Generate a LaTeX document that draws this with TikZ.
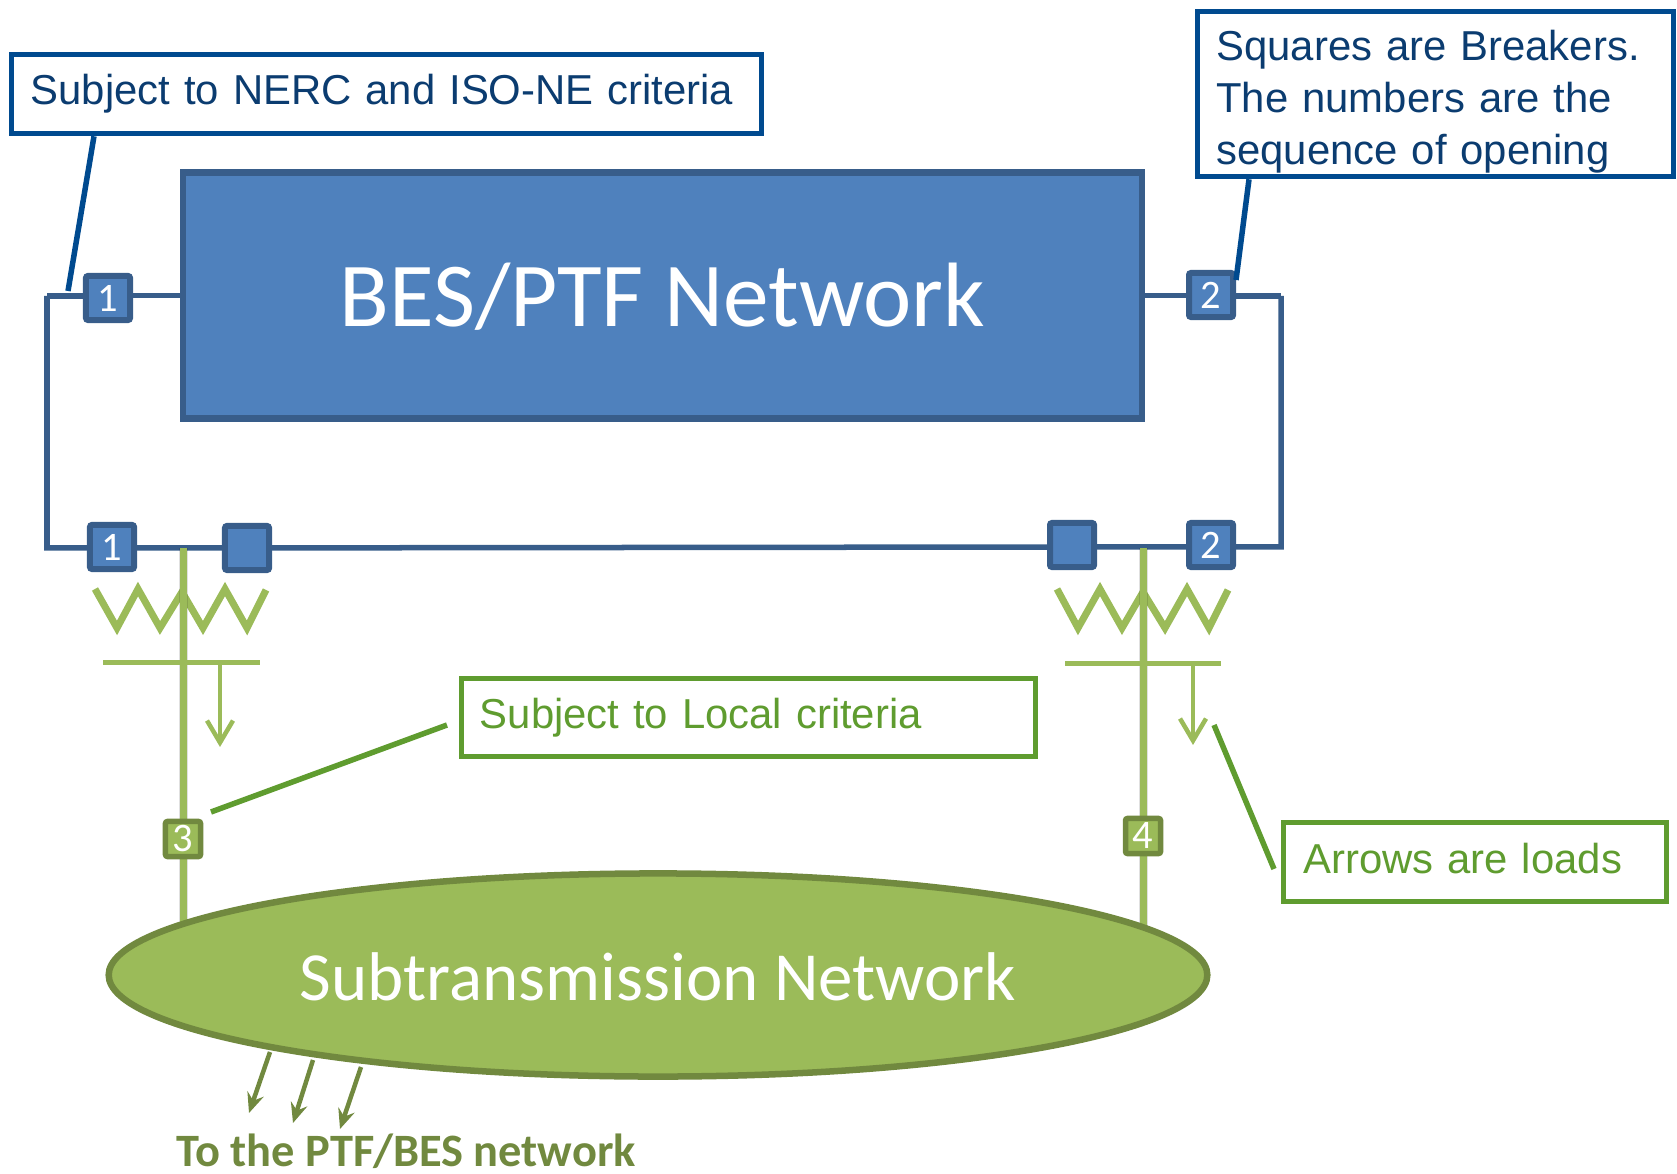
\documentclass[tikz,border=0pt]{standalone}
\usepackage{fontspec}
\setmainfont{Liberation Sans}
\newfontfamily\calibri{Carlito}
\usetikzlibrary{arrows.meta,shapes.geometric}

\definecolor{bluefill}{HTML}{4F81BD}
\definecolor{blueedge}{HTML}{385D8A}
\definecolor{navy}{HTML}{004A8F}
\definecolor{navytext}{HTML}{0B3C70}
\definecolor{greenfill}{HTML}{9BBB59}
\definecolor{greenedge}{HTML}{71893F}
\definecolor{leafgreen}{HTML}{5F9C2F}

\tikzset{
  wire/.style={blueedge,line width=0.055cm,line join=miter},
  feeder/.style={greenfill,line width=0.07cm,
    preaction={draw=black,opacity=0.12,line width=0.09cm}},
  zigzag/.style={greenfill,line width=0.07cm,line join=miter,
    preaction={draw=black,opacity=0.15,transform canvas={yshift=-0.03cm}}},
  busbar/.style={greenfill,line width=0.05cm},
  load/.style={greenfill,line width=0.045cm,-{Straight Barb[length=0.22cm,width=0.26cm]}},
  export/.style={greenedge,line width=0.045cm,-{Stealth[length=0.2cm,width=0.17cm,inset=0.07cm]}},
  bluebrk/.style={draw=blueedge,fill=bluefill,line width=0.06cm,rounded corners=0.02cm,
    minimum size=0.44cm,inner sep=0pt,text=white,font=\calibri\fontsize{11.5}{12}\selectfont},
  greenbrk/.style={draw=greenedge,fill=greenfill,line width=0.055cm,rounded corners=0.02cm,
    minimum size=0.35cm,inner sep=0pt,text=white,font=\calibri\fontsize{11.5}{12}\selectfont},
  callout/.style={draw=navy,fill=white,line width=0.055cm,text=navytext,inner sep=0pt,
    font=\fontsize{11.9}{14.9}\selectfont,align=left},
  greencall/.style={callout,draw=leafgreen,text=leafgreen},
  pointer/.style={navy,line width=0.055cm},
  greenptr/.style={leafgreen,line width=0.055cm}
}

\begin{document}
\begin{tikzpicture}[x=0.01cm,y=-0.01cm]
  \useasboundingbox (0,0) rectangle (1677,1174);

  %--- Points ---
  \coordinate (cornerTL) at (47,296);
  \coordinate (cornerBL) at (47,548);
  \coordinate (cornerTR) at (1281,296);
  \coordinate (cornerBR) at (1281,547);
  \coordinate (tapL) at (183,548);
  \coordinate (footL) at (183,935);
  \coordinate (tapR) at (1143,548);
  \coordinate (footR) at (1143,935);
  \coordinate (busLa) at (103,663);
  \coordinate (busLb) at (260,663);
  \coordinate (busRa) at (1065,664);
  \coordinate (busRb) at (1221,664);
  \coordinate (dropL) at (220,663);
  \coordinate (dropLend) at (220,747);
  \coordinate (dropR) at (1193,664);
  \coordinate (dropRend) at (1193,745);

  %--- Anneau ---
  \draw[wire] (cornerTL) -- (cornerBL) -- (tapL) -- (1072,547) -- (cornerBR) -- (cornerTR);

  %--- Reseaux ---
  \node[draw=blueedge,fill=bluefill,line width=0.065cm,minimum width=9.58cm,minimum height=2.46cm,
    text height=0.61cm,text depth=0pt,
    text=white,font=\calibri\fontsize{26}{30}\selectfont] (bes) at (662.5,295.5) {BES/PTF Network};

  %--- Breakers ---
  \node[bluebrk] (topA) at (108,298) {1};
  \node[bluebrk] (topB) at (1211,295) {2};
  \node[bluebrk] (lowA) at (112,547) {1};
  \node[bluebrk] (lowB) at (247,548) {};
  \node[bluebrk] (lowC) at (1072,545) {};
  \node[bluebrk] (lowD) at (1211,545) {2};

  %--- Liaisons hautes ---
  \draw[wire] (bes.west) -- (topA.east |- bes.west);
  \draw[wire] (topA.west |- cornerTL) -- (cornerTL);
  \draw[wire] (bes.east) -- (topB.west |- bes.east);
  \draw[wire] (topB.east |- cornerTR) -- (cornerTR);

  %--- Transformateurs et charges ---
  \draw[zigzag] (95,589)--(117,628)--(138,589)--(160,628)--(182,592)--(203,628)--(225,589)--(247,628)--(266,590);
  \draw[zigzag] (1057,589)--(1078,628)--(1100,589)--(1122,628)--(1143,592)--(1165,628)--(1187,589)--(1209,628)--(1228,590);
  \draw[feeder] (tapL) -- (footL);
  \draw[feeder] (tapR) -- (footR);
  \draw[busbar] (busLa) -- (busLb);
  \draw[busbar] (busRa) -- (busRb);
  \draw[load] (dropL) -- (dropLend);
  \draw[load] (dropR) -- (dropRend);
  \node[greenbrk] (brkC) at (183,839) {3};
  \node[greenbrk] (brkD) at (1143,836) {4};

  %--- Subtransmission ---
  \node[ellipse,draw=greenedge,fill=greenfill,line width=0.065cm,inner sep=0pt,minimum width=10.98cm,minimum height=2.03cm,
    text height=0.5cm,text depth=0pt,
    text=white,font=\calibri\fontsize{19.6}{24}\selectfont] (subnet) at (658,975) {Subtransmission Network};
  \coordinate (outA) at (270,1052);
  \coordinate (outAend) at (249,1113);
  \coordinate (outB) at (313,1060);
  \coordinate (outBend) at (293,1123);
  \coordinate (outC) at (361,1067);
  \coordinate (outCend) at (340,1129);
  \draw[export] (outA) -- (outAend);
  \draw[export] (outB) -- (outBend);
  \draw[export] (outC) -- (outCend);
  \node[text=greenedge,font=\calibri\bfseries\fontsize{13.2}{15}\selectfont] (toptf) at (406,1151) {To the PTF/BES network};

  %--- Annotations ---
  \node[callout,minimum width=7.5cm,minimum height=0.79cm,text width=7.11cm] (nerc) at (386.5,94) {Subject to NERC and ISO-NE criteria};
  \node[callout,minimum width=4.76cm,minimum height=1.65cm,text width=4.38cm] (squares) at (1435.5,94) {\rule{0pt}{13pt}Squares are Breakers.\\The numbers are the\\sequence of opening};
  \node[greencall,minimum width=5.74cm,minimum height=0.78cm,text width=5.37cm] (localc) at (748.5,717.5) {Subject to Local criteria};
  \node[greencall,minimum width=3.83cm,minimum height=0.79cm,text width=3.43cm,text depth=0.064cm] (arrowsc) at (1475,862) {Arrows are loads};

  \coordinate (nercEnd) at (68,291);
  \coordinate (squaresEnd) at (1236,280);
  \coordinate (localA) at (447,725);
  \coordinate (localB) at (211,812);
  \coordinate (arrowsA) at (1274,869);
  \coordinate (arrowsB) at (1214,725);
  \draw[pointer] (nerc.south -| 94,135) -- (nercEnd);
  \draw[pointer] (squares.south -| 1249,178) -- (squaresEnd);
  \draw[greenptr] (localA) -- (localB);
  \draw[greenptr] (arrowsA) -- (arrowsB);

\end{tikzpicture}
\end{document}
